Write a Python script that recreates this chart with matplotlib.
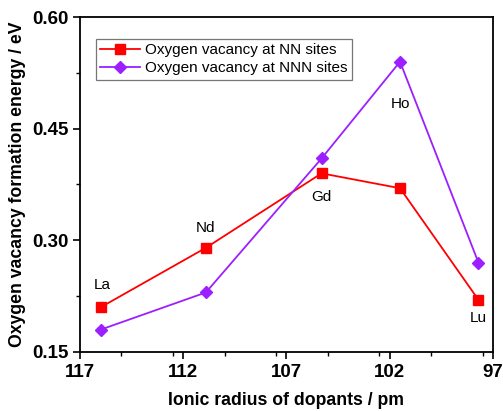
import matplotlib
matplotlib.use("Agg")
import matplotlib.pyplot as plt
from matplotlib.ticker import MultipleLocator, FormatStrFormatter

radius = [116.0, 110.9, 105.3, 101.5, 97.7]
dopants = ["La", "Nd", "Gd", "Ho", "Lu"]
nn = [0.21, 0.29, 0.39, 0.37, 0.22]
nnn = [0.18, 0.23, 0.41, 0.54, 0.27]
# which series each dopant label is attached to, and its pixel offset
label_series = ["nn", "nn", "nn", "nnn", "nn"]
label_offsets = [(2, 22), (0, 20), (0, -24), (0, -42), (0, -18)]

plt.rcParams['font.family'] = ['Liberation Sans', 'DejaVu Sans']

fig = plt.figure(figsize=(5.03, 4.11), dpi=100)
ax = fig.add_axes([0.159, 0.1436, 0.821, 0.815])

ax.plot(radius, nn, color='#ff0000', marker='s', markersize=6.5, lw=1.3,
        label='Oxygen vacancy at NN sites')
ax.plot(radius, nnn, color='#9b1fff', marker='D', markersize=6.5, lw=1.3,
        label='Oxygen vacancy at NNN sites')

series = {"nn": nn, "nnn": nnn}
for i, (x, name, s, off) in enumerate(zip(radius, dopants, label_series, label_offsets)):
    ax.annotate(name, (x, series[s][i]), xytext=off, textcoords='offset pixels',
                ha='center', va='center', fontsize=11)

ax.set_xlim(117, 97)
ax.set_ylim(0.15, 0.60)
ax.set_xticks([117, 112, 107, 102, 97])
ax.xaxis.set_minor_locator(MultipleLocator(2.5))
ax.yaxis.set_major_locator(MultipleLocator(0.15))
ax.yaxis.set_minor_locator(MultipleLocator(0.075))
ax.yaxis.set_major_formatter(FormatStrFormatter('%.2f'))

ax.tick_params(which='major', direction='out', length=5, width=1.2, labelsize=13.5)
ax.tick_params(which='minor', direction='out', length=3, width=1.0)
ax.tick_params(axis='x', which='both', top=False)
ax.tick_params(axis='y', which='both', right=False)
for lab in ax.get_xticklabels() + ax.get_yticklabels():
    lab.set_fontweight('bold')
for sp in ax.spines.values():
    sp.set_linewidth(1.3)

ax.set_xlabel('Ionic radius of dopants / pm', fontsize=12.7, fontweight='bold', labelpad=8)
ax.set_ylabel('Oxygen vacancy formation energy / eV', fontsize=12.7, fontweight='bold', labelpad=4)

leg = ax.legend(loc='upper left', bbox_to_anchor=(0.038, 0.935), fontsize=11,
                frameon=True, fancybox=False, edgecolor='#555555', handlelength=2.6,
                borderpad=0.3, labelspacing=0.25, handletextpad=0.3, borderaxespad=0)
leg.get_frame().set_linewidth(0.9)

fig.savefig('out.png', dpi=100)
